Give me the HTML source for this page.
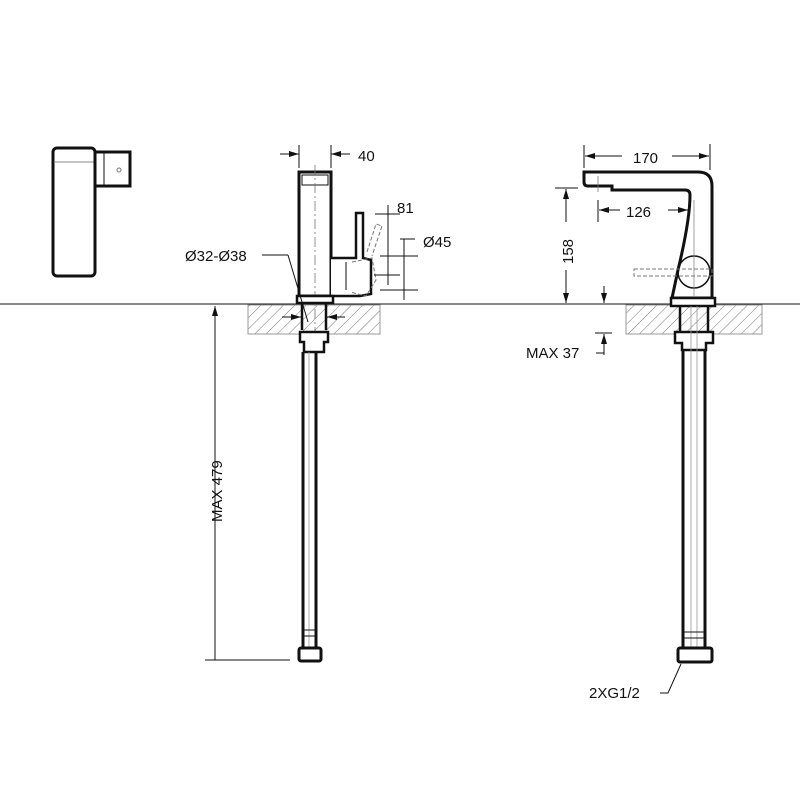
<!DOCTYPE html>
<html><head><style>body{margin:0;background:#fff}svg{display:block}text{font-family:"Liberation Sans",sans-serif;font-size:15px;fill:#111}</style></head><body>
<svg width="800" height="800" viewBox="0 0 800 800" xmlns="http://www.w3.org/2000/svg">
<defs>
<pattern id="h" width="8" height="8" patternUnits="userSpaceOnUse" patternTransform="rotate(45)"><line x1="0" y1="0" x2="0" y2="8" stroke="#777" stroke-width="1"/></pattern>
<marker id="a" markerWidth="10" markerHeight="6" refX="10" refY="3" orient="auto"><path d="M0,0 L10,3 L0,6 z" fill="#111"/></marker>
</defs>
<g fill="none" stroke="#111">
<rect x="53" y="148" width="42" height="128" rx="4" stroke-width="3"/>
<line x1="54" y1="162" x2="94" y2="162" stroke="#888" stroke-width="1"/>
<rect x="95" y="152" width="35" height="34" stroke-width="3"/>
<line x1="104" y1="153" x2="104" y2="185" stroke-width="1"/>
<circle cx="119" cy="170" r="2" stroke="#777"/>
<line x1="0" y1="304" x2="800" y2="304" stroke-width="1"/>
<rect x="248" y="305" width="132" height="29" fill="url(#h)" stroke="#999"/>
<rect x="626" y="305" width="136" height="29" fill="url(#h)" stroke="#999"/>
<rect x="299" y="172" width="32" height="124" stroke-width="3" fill="#fff"/>
<rect x="302" y="175" width="26" height="10" stroke-width="1"/>
<line x1="315" y1="165" x2="315" y2="340" stroke="#777" stroke-width="0.8" stroke-dasharray="10,3,2,3"/>
<path d="M331 258 H356 V213 H363 V258 L371 260 V294 L360 296 H331" stroke-width="2.5" fill="#fff"/>
<line x1="346" y1="262" x2="346" y2="290" stroke-width="1"/>
<path d="M367 252 L376 224 L382 226 L372 256" stroke="#777" stroke-dasharray="4,2" stroke-width="1"/>
<path d="M352 262 L372 258 L376 280 L366 296 L350 292" stroke="#777" stroke-dasharray="4,2" stroke-width="1"/>
<path d="M297 296 H333 V303 H297 Z" stroke-width="2.5" fill="#fff"/>
<path d="M302 304 V330 M326 304 V330" stroke-width="2.5"/>
<path d="M300 332 H328 V342 H324 V352 H304 V342 H300 Z" stroke-width="2.5" fill="#fff"/>
<path d="M303 352 V648 M316 352 V648" stroke-width="3"/>
<line x1="309" y1="352" x2="309" y2="648" stroke="#999" stroke-width="0.8"/>
<line x1="303" y1="630" x2="316" y2="630" stroke-width="1"/><line x1="303" y1="636" x2="316" y2="636" stroke-width="1"/>
<rect x="299" y="648" width="22" height="13" rx="2" stroke-width="3"/>
<line x1="299" y1="145" x2="299" y2="168" stroke-width="1"/><line x1="331" y1="145" x2="331" y2="168" stroke-width="1"/>
<line x1="280" y1="154" x2="299" y2="154" stroke-width="1" marker-end="url(#a)"/>
<line x1="350" y1="154" x2="331" y2="154" stroke-width="1" marker-end="url(#a)"/>
<line x1="375" y1="214" x2="400" y2="214" stroke-width="1"/><line x1="374" y1="275" x2="400" y2="275" stroke-width="1"/>
<line x1="388" y1="205" x2="388" y2="285" stroke-width="1"/>
<line x1="400" y1="239" x2="415" y2="239" stroke-width="1"/>
<line x1="404" y1="239" x2="404" y2="300" stroke-width="1"/>
<line x1="380" y1="256" x2="418" y2="256" stroke-width="1"/><line x1="380" y1="290" x2="418" y2="290" stroke-width="1"/>
<line x1="262" y1="255" x2="288" y2="255" stroke-width="1"/><line x1="288" y1="255" x2="308" y2="322" stroke-width="1"/>
<line x1="282" y1="317" x2="301" y2="317" stroke-width="1" marker-end="url(#a)"/>
<line x1="345" y1="317" x2="327" y2="317" stroke-width="1" marker-end="url(#a)"/>
<line x1="215" y1="660" x2="215" y2="306" stroke-width="1" marker-end="url(#a)"/>
<line x1="205" y1="660" x2="290" y2="660" stroke-width="1"/>
<path d="M584 172 H698 Q712 172 712 186 V298 H672 L678 270 Q690 220 690 195 Q690 190 685 190 H612 V186 H588 Q584 186 584 182 Z" stroke-width="3" fill="#fff"/>
<line x1="598" y1="186" x2="610" y2="186" stroke-width="1"/>
<line x1="598" y1="176" x2="598" y2="192" stroke="#777" stroke-width="0.8"/>
<circle cx="694" cy="272" r="16" stroke-width="1.5"/>
<line x1="694" y1="200" x2="694" y2="296" stroke="#888" stroke-width="0.8"/>
<path d="M634 269 H712 V276 H634 Z" stroke="#777" stroke-dasharray="4,2" stroke-width="1"/>
<path d="M671 298 H715 V306 H671 Z" stroke-width="2.5" fill="#fff"/>
<path d="M680 306 V332 M708 306 V332" stroke-width="2.5"/>
<path d="M675 332 H713 V343 H706 V350 H682 V343 H675 Z" stroke-width="2.5" fill="#fff"/>
<path d="M683 350 V648 M705 350 V648" stroke-width="3"/>
<line x1="691" y1="306" x2="691" y2="648" stroke="#999" stroke-width="0.8"/><line x1="697" y1="306" x2="697" y2="648" stroke="#999" stroke-width="0.8"/>
<line x1="683" y1="632" x2="705" y2="632" stroke-width="1"/><line x1="683" y1="638" x2="705" y2="638" stroke-width="1"/>
<rect x="678" y="648" width="34" height="14" rx="2" stroke-width="3"/>
<line x1="584" y1="145" x2="584" y2="168" stroke-width="1"/><line x1="710" y1="144" x2="710" y2="170" stroke-width="1"/>
<line x1="622" y1="156" x2="585" y2="156" stroke-width="1" marker-end="url(#a)"/>
<line x1="672" y1="156" x2="709" y2="156" stroke-width="1" marker-end="url(#a)"/>
<line x1="598" y1="200" x2="598" y2="222" stroke-width="1"/>
<line x1="620" y1="210" x2="599" y2="210" stroke-width="1" marker-end="url(#a)"/>
<line x1="668" y1="210" x2="688" y2="210" stroke-width="1" marker-end="url(#a)"/>
<line x1="555" y1="188" x2="578" y2="188" stroke-width="1"/>
<line x1="566" y1="222" x2="566" y2="189" stroke-width="1" marker-end="url(#a)"/>
<line x1="566" y1="270" x2="566" y2="303" stroke-width="1" marker-end="url(#a)"/>
<line x1="604" y1="286" x2="604" y2="303" stroke-width="1" marker-end="url(#a)"/>
<line x1="604" y1="355" x2="604" y2="334" stroke-width="1" marker-end="url(#a)"/>
<line x1="595" y1="333" x2="612" y2="333" stroke-width="1"/>
<line x1="596" y1="353" x2="604" y2="353" stroke-width="1"/>
<path d="M660 693 H668 L681 664" stroke-width="1"/>
</g>
<text x="358" y="161">40</text>
<text x="397" y="213">81</text>
<text x="423" y="247">Ø45</text>
<text x="185" y="261">Ø32-Ø38</text>
<text transform="translate(222,522) rotate(-90)">MAX 479</text>
<text x="633" y="163">170</text>
<text x="626" y="217">126</text>
<text transform="translate(573,264) rotate(-90)">158</text>
<text x="526" y="358">MAX 37</text>
<text x="589" y="698">2XG1/2</text>
</svg>
</body></html>
